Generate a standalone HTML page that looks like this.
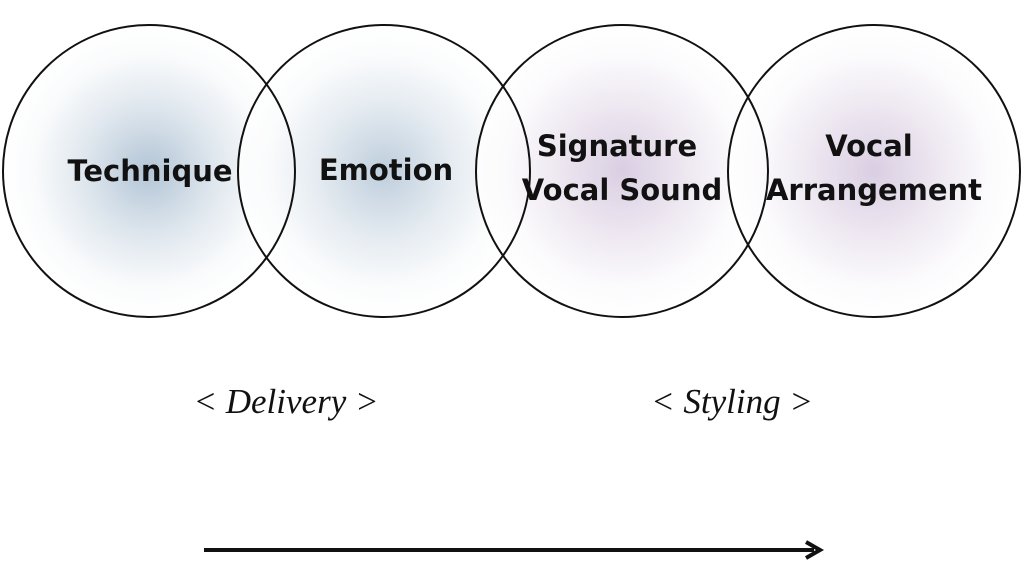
<!DOCTYPE html>
<html><head><style>
html,body{margin:0;padding:0;background:#fff;width:1024px;height:585px;overflow:hidden}
svg{display:block}
</style></head><body>
<svg width="1024" height="585" viewBox="0 0 1024 585" xmlns="http://www.w3.org/2000/svg">
<defs>
<radialGradient id="b" cx="50%" cy="50%" r="50%">
<stop offset="0" stop-color="#b3c5d6"/><stop offset="0.45" stop-color="#dfe7ee"/><stop offset="0.8" stop-color="#fafbfc"/><stop offset="1" stop-color="#ffffff"/>
</radialGradient>
<radialGradient id="p" cx="50%" cy="50%" r="50%">
<stop offset="0" stop-color="#d3c6dd"/><stop offset="0.45" stop-color="#ebe4ef"/><stop offset="0.8" stop-color="#fbfafc"/><stop offset="1" stop-color="#ffffff"/>
</radialGradient>
</defs>
<circle cx="149" cy="171" r="146" fill="url(#b)"/>
<circle cx="384" cy="171" r="146" fill="url(#b)" fill-opacity="0.85"/>
<circle cx="622" cy="171" r="146" fill="url(#p)" fill-opacity="0.85"/>
<circle cx="874" cy="171" r="146" fill="url(#p)" fill-opacity="0.85"/>
<g fill="none" stroke="#111" stroke-width="2">
<circle cx="149" cy="171" r="146"/>
<circle cx="384" cy="171" r="146"/>
<circle cx="622" cy="171" r="146"/>
<circle cx="874" cy="171" r="146"/>
</g>
<g font-family="'DejaVu Sans','Liberation Sans',sans-serif" font-weight="bold" font-size="29" fill="#111" text-anchor="middle">
<text x="150" y="181">Technique</text>
<text x="386" y="180">Emotion</text>
<text x="617" y="156">Signature</text>
<text x="622" y="200">Vocal Sound</text>
<text x="869" y="156">Vocal</text>
<text x="874" y="200">Arrangement</text>
</g>
<g font-family="'Liberation Serif',serif" font-style="italic" font-size="35" fill="#111" text-anchor="middle">
<text x="286" y="413">&lt; Delivery &gt;</text>
<text x="732" y="413">&lt; Styling &gt;</text>
</g>
<line x1="204" y1="550" x2="814" y2="550" stroke="#111" stroke-width="4"/>
<path d="M806 542 L820 550 L806 558" fill="none" stroke="#111" stroke-width="4"/>
</svg>
</body></html>
